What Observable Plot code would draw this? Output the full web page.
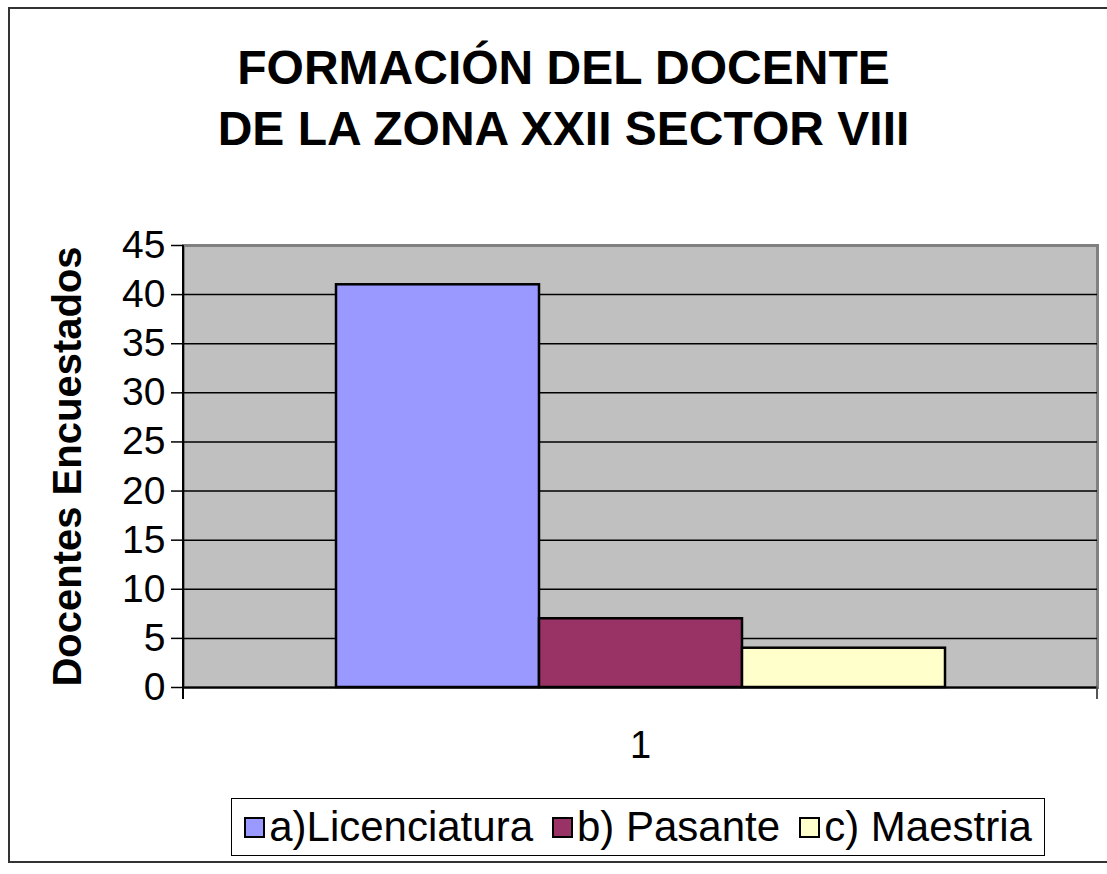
<!DOCTYPE html>
<html>
<head>
<meta charset="utf-8">
<script src="https://cdn.jsdelivr.net/npm/d3@7"></script>
<script src="https://cdn.jsdelivr.net/npm/@observablehq/plot@0.6"></script>
<style>
  html, body { margin: 0; padding: 0; background: #fff; overflow: hidden; }
  #wrap { position: relative; width: 1107px; height: 874px; font-family: "Liberation Sans", Arial, sans-serif; }
  #border { position: absolute; left: 8px; top: 7px; width: 1110px; height: 856px; border: 2px solid #333; box-sizing: border-box; }
  #title { position: absolute; left: 0; top: 37px; width: 1127px; text-align: center; font-weight: bold; font-size: 48px; line-height: 61px; color: #000; }
  #chart { position: absolute; left: 0; top: 200px; }
  #legend { position: absolute; left: 231px; top: 798px; width: 814px; height: 58px; border: 1px solid #000; box-sizing: border-box; display: flex; align-items: center; justify-content: center; gap: 19px; font-size: 42px; background: #fff; }
  .item { display: flex; align-items: center; }
  .sw { width: 21px; height: 21px; border: 2px solid #000; box-sizing: border-box; margin-right: 4px; }
</style>
</head>
<body>
<div id="wrap">
  <div id="border"></div>
  <div id="title"></div>
  <div id="chart"></div>
  <div id="legend"></div>
</div>
<script>
const titleLines = ["FORMACIÓN DEL DOCENTE", "DE LA ZONA XXII SECTOR VIII"];
const categories = ["1"];
const series = ["a)Licenciatura", "b) Pasante", "c) Maestria"];
const values = [41, 7, 4];
const colors = ["#9999FF", "#993366", "#FFFFCC"];
const yTicks = [0, 5, 10, 15, 20, 25, 30, 35, 40, 45];
const yLabel = "Docentes Encuestados";

document.getElementById("title").innerHTML = titleLines.join("<br>");

const data = series.map((s, i) => ({serie: s, value: values[i], category: categories[0]}));

const edges = (index, scales, values, dims) => {
  const {marginLeft, marginRight, marginTop, marginBottom, width, height} = dims;
  const x0 = marginLeft, x1 = width - marginRight, yt = marginTop, yb = height - marginBottom;
  const g = d3.create("svg:g").attr("stroke", "#000").attr("stroke-width", 2);
  g.append("line").attr("x1", x0).attr("x2", x0).attr("y1", yt).attr("y2", yb + 12);
  g.append("line").attr("x1", x1).attr("x2", x1).attr("y1", yb).attr("y2", yb + 12).attr("stroke", "#555");
  return g.node();
};

const chart = Plot.plot({
  width: 1107,
  height: 577,
  marginLeft: 183,
  marginRight: 10,
  marginTop: 45,
  marginBottom: 90,
  style: {fontFamily: "'Liberation Sans', Arial, sans-serif", color: "#000", background: "transparent", overflow: "visible"},
  x: {domain: series, paddingInner: 0, paddingOuter: 0.75, axis: null},
  y: {domain: [0, 45], axis: null},
  color: {domain: series, range: colors},
  marks: [
    Plot.frame({fill: "#C0C0C0", stroke: "#808080", strokeWidth: 3}),
    Plot.ruleY(yTicks.filter(t => t > 0 && t < 45), {stroke: "#000", strokeWidth: 1.5}),
    Plot.barY(data, {x: "serie", y: "value", fill: "serie", stroke: "#000", strokeWidth: 2.5}),
    Plot.ruleY([0], {stroke: "#000", strokeWidth: 2}),
    edges,
    Plot.axisY(yTicks, {tickSize: 12, tickPadding: 6, fontSize: 39, stroke: "#000", strokeWidth: 1.5, label: null}),
    Plot.text(categories, {text: d => d, frameAnchor: "bottom", dy: 70, fontSize: 38, fill: "#000"}),
    Plot.text([yLabel], {text: d => d, frameAnchor: "left", textAnchor: "middle", rotate: -90, dx: -115, fontSize: 40, fontWeight: "bold", fill: "#000"})
  ]
});
document.getElementById("chart").appendChild(chart);

const legend = d3.select("#legend");
series.forEach((s, i) => {
  const it = legend.append("div").attr("class", "item");
  it.append("div").attr("class", "sw").style("background", colors[i]);
  it.append("span").text(s);
});
</script>
</body>
</html>
